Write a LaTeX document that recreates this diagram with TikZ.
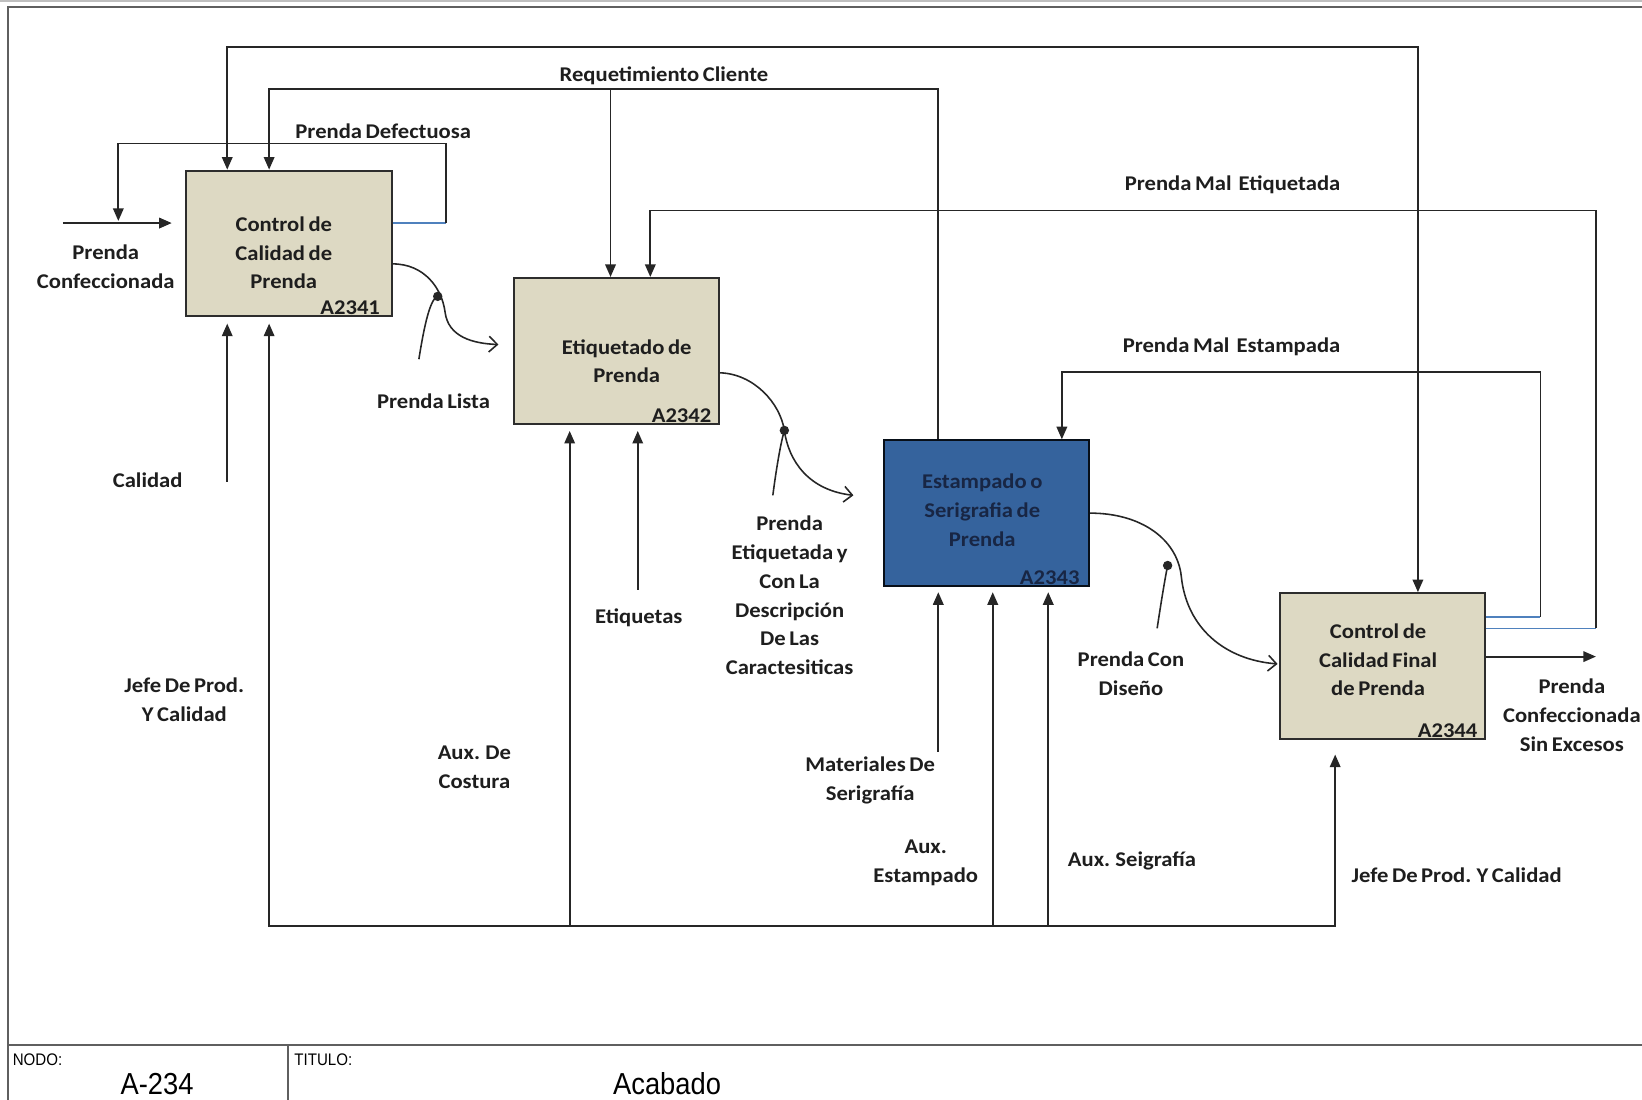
\documentclass[tikz,border=0pt]{standalone}
\usepackage{fontspec}
\setmainfont{Carlito}[WordSpace=0.7, FakeStretch=1.08]
\newfontfamily\footfont[FakeStretch=0.9]{Liberation Sans}
\usetikzlibrary{arrows.meta}

\definecolor{boxfill}{RGB}{221,217,195}
\definecolor{boxedge}{RGB}{45,45,45}
\definecolor{seriblue}{RGB}{53,99,157}
\definecolor{seritext}{RGB}{24,38,68}
\definecolor{fbblue}{RGB}{79,129,189}
\definecolor{linegray}{RGB}{38,38,38}
\definecolor{labeltext}{RGB}{30,30,30}
\definecolor{framegray}{RGB}{95,95,95}

\tikzset{
  flow/.style={line width=1.8pt, draw=linegray},
  arr/.style={flow, -{Triangle[length=12pt,width=10pt]}},
  darr/.style={flow, {Triangle[length=12pt,width=10pt]}-{Triangle[length=12pt,width=10pt]}},
  squig/.style={flow, line width=1.5pt, -{Straight Barb[length=8pt,width=15pt,line width=1.5pt]}},
  tick/.style={flow, line width=1.5pt},
  fb/.style={line width=1.4pt, draw=fbblue},
  act/.style={draw=boxedge, line width=2pt, fill=boxfill, minimum width=196pt,
              minimum height=139pt, inner sep=0pt},
  acttxt/.style={font=\fontsize{20}{27.5}\selectfont\bfseries, align=center,
                 text=labeltext, inner sep=0pt},
  lbl/.style={font=\fontsize{20}{27.5}\selectfont\bfseries, align=center,
              text=labeltext, inner sep=0pt},
  aid/.style={font=\fontsize{20}{24}\selectfont\bfseries, text=labeltext,
              inner sep=0pt, anchor=south east},
  frame/.style={line width=2pt, draw=framegray},
  foot/.style={font=\footfont, text=black, inner sep=0pt},
}

\begin{document}
\begin{tikzpicture}[x=1pt, y=-1pt]
\useasboundingbox (0,0) rectangle (1568,1050);
\fill[white] (0,0) rectangle (1568,1050);

% sheet frame and title block
\draw[line width=1.5pt, draw=black!25] (0,0.8) -- (1568,0.8);
\draw[frame] (8,1050) -- (8,7) -- (1568,7);
\draw[frame] (8,998) -- (1568,998);
\draw[frame] (275,998) -- (275,1050);
\node[foot, anchor=west, font=\footfont\fontsize{16}{16}\selectfont] (nodolbl) at (12,1012) {NODO:};
\node[foot, anchor=west, font=\footfont\fontsize{16}{16}\selectfont] (titlbl) at (281,1012) {TITULO:};
\node[foot, font=\footfont\fontsize{29}{29}\selectfont] (nodoval) at (150,1035) {A-234};
\node[foot, font=\footfont\fontsize{29}{29}\selectfont] (titval) at (637,1035) {Acabado};

% activity boxes
\node[act] (b1) at (276,232.5) {};
\node[act] (b2) at (588.5,335) {};
\node[act, fill=seriblue, draw=black!85!seriblue] (b3) at (942,490) {};
\node[act] (b4) at (1320,636) {};

\node[acttxt] (b1t) at ([xshift=-5pt,yshift=-9pt]b1.center) {Control de\\Calidad de\\Prenda};
\node[acttxt] (b2t) at ([xshift=10pt,yshift=-10pt]b2.center) {Etiquetado de\\Prenda};
\node[acttxt, text=seritext] (b3t) at ([xshift=-4pt,yshift=3pt]b3.center) {Estampado o\\Serigrafia de\\Prenda};
\node[acttxt] (b4t) at ([xshift=-4pt,yshift=6pt]b4.center) {Control de\\Calidad Final\\de Prenda};

\node[aid] (b1id) at ([xshift=-12pt,yshift=2pt]b1.south east) {A2341};
\node[aid] (b2id) at ([xshift=-8pt,yshift=2pt]b2.south east) {A2342};
\node[aid, text=seritext] (b3id) at ([xshift=-10pt,yshift=2pt]b3.south east) {A2343};
\node[aid] (b4id) at ([xshift=-8pt,yshift=2pt]b4.south east) {A2344};

% routing points
\coordinate (t1) at (217,45);
\coordinate (t2) at (1354,45);
\coordinate (r1) at (257,85);
\coordinate (r2) at (896,85);
\coordinate (r3) at (583,85);
\coordinate (d1) at (426,213);
\coordinate (d2) at (426,137);
\coordinate (d3) at (113,137);
\coordinate (in0) at (60,213);
\coordinate (e1) at (1524,600);
\coordinate (e2) at (1524,201);
\coordinate (e3) at (621,201);
\coordinate (s1) at (1471,589);
\coordinate (s2) at (1471,355);
\coordinate (s3) at (1014,355);
\coordinate (out0) at (1524,627);
\coordinate (k1) at (257,884);
\coordinate (k2) at (1275,884);
\coordinate (k3) at (544,884);
\coordinate (k4) at (948,884);
\coordinate (k5) at (1001,884);
\coordinate (cal) at (217,460);
\coordinate (eti) at (609,563);
\coordinate (mat) at (896,718);

% top control line shared by the first and last boxes
\draw[darr] (t1 |- b1.north) -- (t1) -- (t2) -- (t2 |- b4.north);

% customer requirement
\draw[arr] (r2 |- b3.north) -- (r2) -- (r1) -- (r1 |- b1.north);
\draw[arr] (r3) -- (r3 |- b2.north);
\node[lbl] (lreq) at (634,72) {Requetimiento Cliente};

% defective garment loop
\draw[fb] (d1 -| b1.east) -- (d1);
\draw[arr] (d1) -- (d2) -- (d3) -- ([yshift=2pt]d3 |- in0);
\node[lbl] (ldef) at (366,125) {Prenda Defectuosa};

% input
\draw[arr] (in0) -- ([xshift=-13pt]in0 -| b1.west);
\node[lbl] (lin) at (101,255) {Prenda\\Confeccionada};

% mislabelled garment loop
\draw[fb] (e1 -| b4.east) -- (e1);
\draw[arr] (e1) -- (e2) -- (e3) -- (e3 |- b2.north);
\node[lbl] (lmet) at (1177,176) {Prenda Mal \ Etiquetada};

% misprinted garment loop
\draw[fb] (s1 -| b4.east) -- (s1);
\draw[arr] (s1) -- (s2) -- (s3) -- (s3 |- b3.north);
\node[lbl] (lmes) at (1176,331) {Prenda Mal \ Estampada};

% output
\draw[arr] (out0 -| b4.east) -- (out0);
\node[lbl] (lout) at (1501,683) {Prenda\\Confeccionada\\Sin Excesos};

% mechanisms along the bottom
\draw[arr] (k2) -- (k1) -- ([yshift=-6pt]k1 |- b1.south);
\draw[arr] (k1) -- (k2) -- ([yshift=-14pt]k2 |- b4.south);
\draw[arr] (k3) -- ([yshift=-6pt]k3 |- b2.south);
\draw[arr] (k4) -- ([yshift=-5pt]k4 |- b3.south);
\draw[arr] (k5) -- ([yshift=-5pt]k5 |- b3.south);
\node[lbl] (ljefe1) at (176,668) {Jefe De Prod.\\Y Calidad};
\node[lbl] (laux1) at (453,733) {Aux. De\\Costura};
\node[lbl] (laux2) at (884,824) {Aux.\\Estampado};
\node[lbl] (laux3) at (1081,822) {Aux. Seigrafía};
\node[lbl] (ljefe2) at (1391,836) {Jefe De Prod. Y Calidad};

% single controls
\draw[arr] (cal) -- ([yshift=-6pt]cal |- b1.south);
\node[lbl] (lcal) at (141,459) {Calidad};
\draw[arr] (eti) -- ([yshift=-6pt]eti |- b2.south);
\node[lbl] (leti) at (610,590) {Etiquetas};
\draw[arr] (mat) -- ([yshift=-5pt]mat |- b3.south);
\node[lbl] (lmat) at (831,745) {Materiales De\\Serigrafía};

% outputs passed between boxes
\coordinate (p1) at (476,329);
\coordinate (q1) at (418,283);
\coordinate (w1) at (400,343);
\draw[squig] ([yshift=-19.5pt]b1.east) .. controls (405,252) and (422,275) .. (425,298)
      .. controls (428,322) and (452,328) .. (p1);
\draw[tick] (q1) .. controls (410,285) and (404,318) .. (w1);
\fill[linegray] (q1) circle (4.5pt);
\node[lbl] (llis) at (414,383) {Prenda Lista};

\coordinate (p2) at (815,473);
\coordinate (q2) at (749,411);
\coordinate (w2) at (738,473);
\draw[squig] ([yshift=-21pt]b2.east) .. controls (720,357) and (745,385) .. (749,411)
      .. controls (753,440) and (772,468) .. (p2);
\draw[tick] (q2) .. controls (745,425) and (741,450) .. (w2);
\fill[linegray] (q2) circle (4.5pt);
\node[lbl] (leti2) at (754,568.5) {Prenda\\Etiquetada y\\Con La\\Descripción\\De Las\\Caractesiticas};

\coordinate (p3) at (1220,634);
\coordinate (q3) at (1115,540);
\coordinate (w3) at (1105,600);
\draw[squig] (b3.east) .. controls (1090,490) and (1124,515) .. (1128,550)
      .. controls (1133,600) and (1170,630) .. (p3);
\draw[tick] (q3) .. controls (1112,555) and (1108,580) .. (w3);
\fill[linegray] (q3) circle (4.5pt);
\node[lbl] (ldis) at (1080,643) {Prenda Con\\Diseño};
\end{tikzpicture}
\end{document}
